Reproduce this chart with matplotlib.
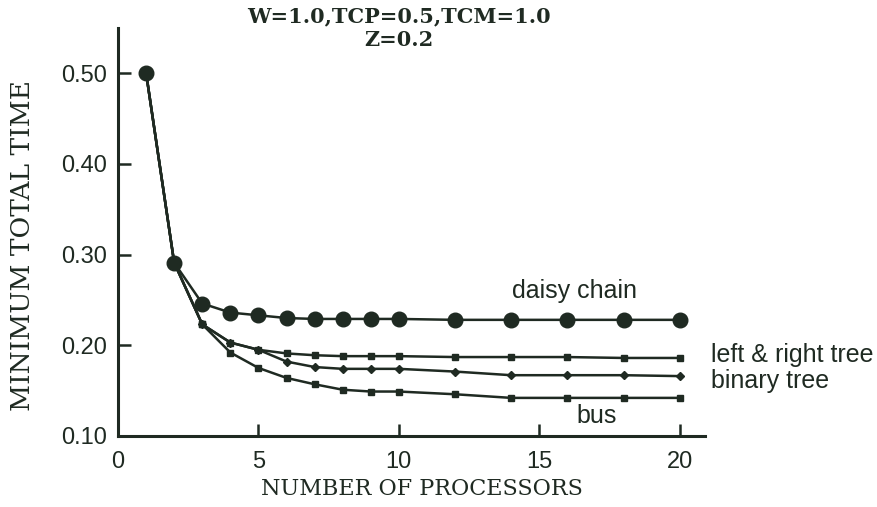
import matplotlib
matplotlib.use("Agg")
import matplotlib.pyplot as plt

# Number of processors and minimum total time for each network topology
daisy_x = [1, 2, 3, 4, 5, 6, 7, 8, 9, 10, 12, 14, 16, 18, 20]
daisy_y = [0.500, 0.291, 0.246, 0.236, 0.233, 0.230, 0.229, 0.229, 0.229, 0.229,
           0.228, 0.228, 0.228, 0.228, 0.228]

lr_x = [1, 2, 3, 4, 5, 6, 7, 8, 9, 10, 12, 14, 16, 18, 20]
lr_y = [0.500, 0.291, 0.223, 0.203, 0.195, 0.191, 0.189, 0.188, 0.188, 0.188,
        0.187, 0.187, 0.187, 0.186, 0.186]

binary_x = [1, 2, 3, 4, 5, 6, 7, 8, 9, 10, 12, 14, 16, 18, 20]
binary_y = [0.500, 0.291, 0.223, 0.203, 0.195, 0.182, 0.176, 0.174, 0.174, 0.174,
            0.171, 0.167, 0.167, 0.167, 0.166]

bus_x = [1, 2, 3, 4, 5, 6, 7, 8, 9, 10, 12, 14, 16, 18, 20]
bus_y = [0.500, 0.291, 0.223, 0.192, 0.175, 0.164, 0.157, 0.151, 0.149, 0.149,
         0.146, 0.142, 0.142, 0.142, 0.142]

x_ticks = [0, 5, 10, 15, 20]
y_ticks = [0.10, 0.20, 0.30, 0.40, 0.50]

ink = "#1f2a22"
serif = ["DejaVu Serif"]
sans = ["Liberation Sans", "DejaVu Sans"]

fig = plt.figure(figsize=(8.78, 5.07), dpi=100)
ax = fig.add_axes([118 / 878, 1 - 436 / 507, (705 - 118) / 878, (436 - 28) / 507])

lw = 1.8
ax.plot(bus_x, bus_y, color=ink, lw=lw, marker="s", ms=5, zorder=3)
ax.plot(binary_x, binary_y, color=ink, lw=lw, marker="D", ms=3.8, zorder=3)
ax.plot(lr_x, lr_y, color=ink, lw=lw, marker="s", ms=5, zorder=3)
ax.plot(daisy_x, daisy_y, color=ink, lw=lw, marker="o", ms=10.5, zorder=4)

ax.set_xlim(0, 20.9)
ax.set_ylim(0.10, 0.5496)
ax.set_xticks(x_ticks)
ax.set_yticks(y_ticks)
ax.set_xticklabels([str(v) for v in x_ticks], fontfamily=sans, fontsize=17, color=ink)
ax.set_yticklabels([f"{v:.2f}" for v in y_ticks], fontfamily=sans, fontsize=17, color=ink)
ax.tick_params(direction="in", length=9, width=1.8, color=ink)
ax.tick_params(axis="y", pad=8)
ax.tick_params(axis="x", pad=11)

for side in ("top", "right"):
    ax.spines[side].set_visible(False)
for side in ("left", "bottom"):
    ax.spines[side].set_linewidth(2.2)
    ax.spines[side].set_color(ink)

ax.set_xlabel("NUMBER OF PROCESSORS", fontfamily=serif, fontsize=16, color=ink)
ax.set_ylabel("MINIMUM TOTAL TIME", fontfamily=serif, fontsize=19, color=ink)
ax.xaxis.set_label_coords(0.518, -0.103)
ax.yaxis.set_label_coords(-0.141, 0.466)

fig.text(399 / 878, 1 - 22 / 507, "W=1.0,TCP=0.5,TCM=1.0", ha="center", va="baseline",
         fontfamily=serif, fontweight="bold", fontsize=15, color=ink)
fig.text(399 / 878, 1 - 46 / 507, "Z=0.2", ha="center", va="baseline",
         fontfamily=serif, fontweight="bold", fontsize=15, color=ink)

label_kw = dict(fontfamily=sans, fontsize=18, color=ink, va="baseline", clip_on=False)
ax.text(16.26, 0.2521, "daisy chain", ha="center", **label_kw)
ax.text(21.1, 0.1815, "left & right tree", ha="left", **label_kw)
ax.text(21.1, 0.1530, "binary tree", ha="left", **label_kw)
ax.text(17.05, 0.1143, "bus", ha="center", **label_kw)

fig.savefig("out.png", dpi=100, facecolor="white")
